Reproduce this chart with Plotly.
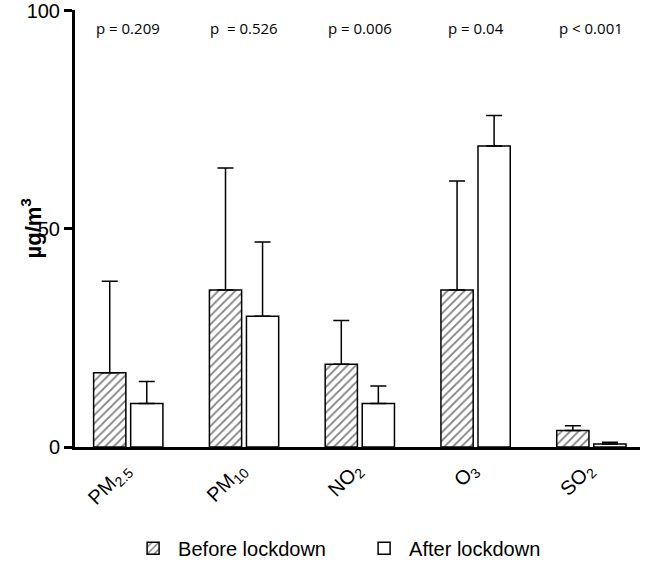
import plotly.graph_objects as go

# Data
pollutants = ["PM<sub>2.5</sub>", "PM<sub>10</sub>", "NO<sub>2</sub>", "O<sub>3</sub>", "SO<sub>2</sub>"]
before_mean = [17, 36, 19, 36, 3.8]
before_err = [21, 28, 10, 25, 1.1]
after_mean = [10, 30, 10, 69, 0.7]
after_err = [5, 17, 4, 7, 0.4]
p_values = ["p = 0.209", "p  = 0.526", "p = 0.006", "p = 0.04", "p < 0.001"]

fig = go.Figure()

fig.add_trace(go.Bar(
    x=pollutants, y=before_mean, name="Before lockdown",
    marker=dict(color="white", line=dict(color="black", width=1.5),
                pattern=dict(shape="/", fgcolor="black", bgcolor="white", size=6, solidity=0.3)),
    error_y=dict(type="data", array=before_err, arrayminus=[0] * 5, symmetric=False,
                 color="black", thickness=1.5, width=8),
))
fig.add_trace(go.Bar(
    x=pollutants, y=after_mean, name="After lockdown",
    marker=dict(color="white", line=dict(color="black", width=1.5)),
    error_y=dict(type="data", array=after_err, arrayminus=[0] * 5, symmetric=False,
                 color="black", thickness=1.5, width=8),
))

# p-value labels above each group
for cat, p in zip(pollutants, p_values):
    fig.add_annotation(x=cat, y=96, text=p, showarrow=False, yanchor="middle",
                       font=dict(family="Open Sans", size=15, color="black"))

# y axis title as annotation so it can sit closer to the ticks
fig.add_annotation(x=-0.078, y=0.5, xref="paper", yref="paper", text="<b>µg/m<sup>3</sup></b>",
                   xanchor="center", yanchor="middle",
                   textangle=-90, showarrow=False, font=dict(size=22, color="black"))

fig.update_layout(
    width=649, height=571,
    margin=dict(l=75, r=9, t=10, b=124, autoexpand=False),
    plot_bgcolor="white", paper_bgcolor="white",
    barmode="group", bargap=0.36, bargroupgap=0.13,
    font=dict(family="Liberation Sans", color="black"),
    showlegend=True,
    legend=dict(orientation="h", x=0.094, xanchor="left", yref="container", y=0.04, yanchor="middle",
                font=dict(size=20), itemwidth=40, entrywidth=176),
)
fig.update_xaxes(
    range=[-0.46, 4.42], showline=True, linecolor="black", linewidth=3,
    ticks="", tickangle=-45, tickfont=dict(size=20), showgrid=False, automargin=False,
    ticklabelshift=-4,
)
fig.update_yaxes(
    range=[0, 100.2], tickvals=[0, 50, 100], showline=True, linecolor="black", linewidth=3,
    ticks="outside", ticklen=8, tickwidth=3, tickcolor="black",
    tickfont=dict(size=20), showgrid=False, zeroline=False, automargin=False,
    ticklabeloverflow="allow",
)

fig.write_html("out.html", config={"displayModeBar": False},
               post_script="document.body.style.margin = '0';")
